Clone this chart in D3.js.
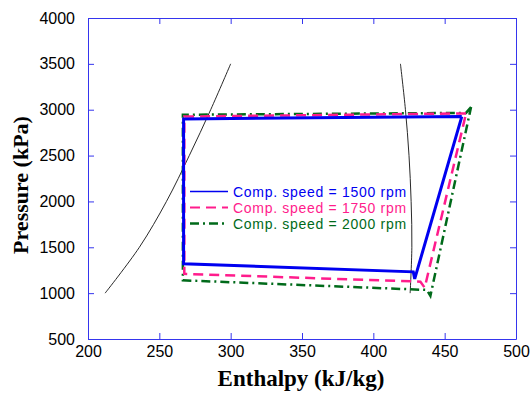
<!DOCTYPE html>
<html><head><meta charset="utf-8">
<script src="https://cdn.jsdelivr.net/npm/d3@7"></script>
<style>body{margin:0;background:#fff}svg{display:block}</style>
</head><body>
<svg id="c" width="530" height="393"></svg>
<script>
// ---- data ----
const xTicks = [200, 250, 300, 350, 400, 450, 500];
const yTicks = [500, 1000, 1500, 2000, 2500, 3000, 3500, 4000];
const satPressure = [1000, 1500, 2000, 2500, 3000, 3500];
const satLiquidH = [212, 236, 255, 271, 286, 300];
const satVaporH = [425.8, 427, 426.5, 425, 422.5, 419];
const legendLabels = ["Comp. speed = 1500 rpm", "Comp. speed = 1750 rpm", "Comp. speed = 2000 rpm"];
const cycle1500H = [462, 267, 267, 428, 429, 462];
const cycle1500P = [2925, 2900, 1320, 1232, 1155, 2925];
const cycle1750H = [465, 267.5, 267.5, 433, 436, 465];
const cycle1750P = [2960, 2925, 1210, 1125, 1060, 2960];
const cycle2000H = [468.5, 465, 266.5, 266.5, 437.5, 440, 468.5];
const cycle2000P = [3030, 2965, 2945, 1140, 1035, 970, 3030];

// ---- chart ----
const svg = d3.select("#c");
const x = d3.scaleLinear().domain([200, 500]).range([88, 516]);
const y = d3.scaleLinear().domain([500, 4000]).range([339, 18]);
const axisColor = "#3535ee";
const tickFont = "'Liberation Sans', Arial, sans-serif";
const fmt = d3.format("d");

function styleAxis(g) {
  g.selectAll("path.domain").attr("stroke", axisColor).attr("stroke-width", 1);
  g.selectAll(".tick line").attr("stroke", axisColor).attr("stroke-width", 1);
  g.selectAll(".tick text").attr("fill", "#000").style("font-family", tickFont).style("font-size", "16px");
}
svg.append("g").attr("transform", "translate(0,339)")
  .call(d3.axisBottom(x).tickValues(xTicks).tickFormat(fmt).tickSizeInner(-6).tickSizeOuter(0).tickPadding(7))
  .call(styleAxis);
svg.append("g").attr("transform", "translate(0,18)")
  .call(d3.axisTop(x).tickValues(xTicks).tickSizeInner(-6).tickSizeOuter(0).tickFormat(""))
  .call(styleAxis);
svg.append("g").attr("transform", "translate(88,0)")
  .call(d3.axisLeft(y).tickValues(yTicks).tickFormat(fmt).tickSizeInner(-6).tickSizeOuter(0).tickPadding(13))
  .call(styleAxis);
svg.append("g").attr("transform", "translate(516,0)")
  .call(d3.axisRight(y).tickValues(yTicks).tickSizeInner(-6).tickSizeOuter(0).tickFormat(""))
  .call(styleAxis);

// saturation dome
const satLine = d3.line().x(d => x(d[0])).y(d => y(d[1])).curve(d3.curveCatmullRom);
svg.append("path").datum(satPressure.map((p, i) => [satLiquidH[i], p]))
  .attr("d", satLine).attr("fill", "none").attr("stroke", "#111").attr("stroke-width", 0.9);
svg.append("path").datum(satPressure.map((p, i) => [satVaporH[i], p]))
  .attr("d", satLine).attr("fill", "none").attr("stroke", "#111").attr("stroke-width", 0.9);

// cycles
const cycLine = d3.line().x(d => x(d[0])).y(d => y(d[1]));
const series = [
  {h: cycle2000H, p: cycle2000P, color: "#006a1a", width: 2.5, dash: "9,4,2,4", lw: 2.5},
  {h: cycle1750H, p: cycle1750P, color: "#ff1c8c", width: 2.5, dash: "10,6", lw: 2},
  {h: cycle1500H, p: cycle1500P, color: "#0000f0", width: 3, dash: null, lw: 1.6}
];
series.forEach(s => {
  svg.append("path").datum(s.h.map((h, i) => [h, s.p[i]]))
    .attr("d", cycLine).attr("fill", "none").attr("stroke", s.color)
    .attr("stroke-width", s.width).attr("stroke-dasharray", s.dash)
    .attr("stroke-linejoin", "miter");
});

// legend
const legendOrder = [series[2], series[1], series[0]];
const lg = svg.append("g");
legendOrder.forEach((s, i) => {
  const yy = 191.5 + i * 16;
  lg.append("line").attr("x1", 190).attr("x2", 228).attr("y1", yy).attr("y2", yy)
    .attr("stroke", s.color).attr("stroke-width", s.lw).attr("stroke-dasharray", s.dash);
  lg.append("text").attr("x", 233).attr("y", yy + 5).text(legendLabels[i])
    .attr("fill", s.color).style("font-family", tickFont).style("font-size", "14px")
    .style("letter-spacing", "0.7px");
});

// axis titles
svg.append("text").attr("x", 301).attr("y", 386).attr("text-anchor", "middle")
  .style("font-family", "'Liberation Serif', 'Times New Roman', serif").style("font-weight", "bold")
  .style("font-size", "23px").text("Enthalpy (kJ/kg)");
svg.append("text").attr("transform", "translate(28,185) rotate(-90)").attr("text-anchor", "middle")
  .style("font-family", "'Liberation Serif', 'Times New Roman', serif").style("font-weight", "bold")
  .style("font-size", "22px").text("Pressure (kPa)");
</script>
</body></html>
